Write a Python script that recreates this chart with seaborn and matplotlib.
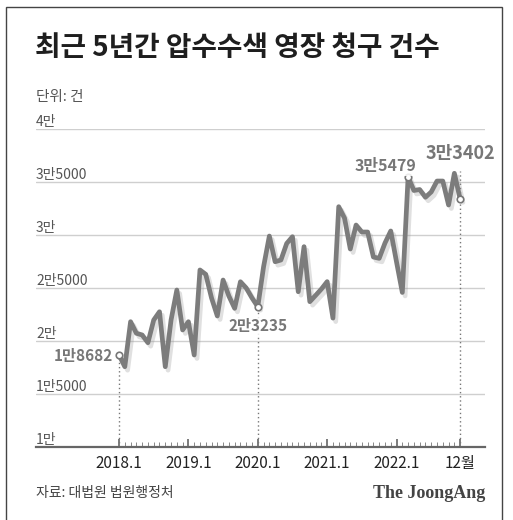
import matplotlib
matplotlib.use("Agg")
import matplotlib.pyplot as plt
import matplotlib.patheffects as pe
from matplotlib.patches import Rectangle
import seaborn as sns
import pandas as pd

sns.set_theme(style="white")
plt.rcParams['font.family'] = ['Noto Sans CJK KR', 'DejaVu Sans']

# ---- data (monthly, 2018.1 - 2022.12) ----
months = [f"{y}.{m}" for y in range(2018, 2023) for m in range(1, 13)]
values = [18682, 17575, 21820, 20730, 20570, 19840, 21980, 22760, 17575, 21980, 24810, 21040,
          21820, 18680, 26700, 26290, 24060, 22360, 25750, 24240, 23080, 25590, 25000, 24060,
          23235, 27000, 29900, 27480, 27640, 29200, 29840, 24650, 28900, 23710, 24300, 24900,
          25600, 22160, 32670, 31600, 28680, 30940, 30280, 30280, 27920, 27800, 29240, 30380,
          27450, 24580, 35479, 34200, 34290, 33560, 34060, 35090, 35090, 32830, 35820, 33402]
ytick_values = [10000, 15000, 20000, 25000, 30000, 35000, 40000]
ytick_labels = ["1만", "1만5000", "2만", "2만5000", "3만", "3만5000", "4만"]
xtick_pos = [0, 12, 24, 36, 48, 59]
xtick_labels = ["2018.1", "2019.1", "2020.1", "2021.1", "2022.1", "12월"]
callout_idx = [0, 24, 50, 59]
callout_text = ["1만8682", "2만3235", "3만5479", "3만3402"]
dotted_idx = [0, 24, 59]

df = pd.DataFrame({"idx": range(len(values)), "month": months, "value": values})

W, H = 513, 520
fig = plt.figure(figsize=(W / 100, H / 100), dpi=100)
fig.patch.set_facecolor("white")

# frame
fig.add_artist(Rectangle((6 / W, -0.01), (502 - 6) / W, 513 / H + 0.01,
                         transform=fig.transFigure, fill=False, edgecolor="#444444", lw=1.0))

ax = fig.add_axes([36 / W, (H - 447) / H, (485 - 36) / W, (447 - 129) / H])
ax.set_facecolor("white")
ax.set_xlim(-14.36, 63.3)
ax.set_ylim(10000, 40000)

# gridlines
for v in ytick_values[1:]:
    ax.axhline(v, color="#cfcfcf", lw=1.0, zorder=0)

# dotted leaders
for i in dotted_idx:
    top = values[i] if i != 59 else 36000
    ax.plot([i, i], [10000, top], ls=(0, (1, 2)), color="#777777", lw=1.0, zorder=1)

sns.lineplot(data=df, x="idx", y="value", ax=ax, color="#7c7c7c", lw=3.4, zorder=3,
             path_effects=[pe.SimpleLineShadow(offset=(2, -2.5), shadow_color="#999999", alpha=0.3),
                           pe.Normal()])
ax.set_xlabel("")
ax.set_ylabel("")

# markers
ax.scatter(callout_idx, [values[i] for i in callout_idx],
           s=22, facecolor="white", edgecolor="#777777", lw=1.2, zorder=5)

# spines & ticks
for s in ["top", "right", "left"]:
    ax.spines[s].set_visible(False)
ax.spines["bottom"].set_color("#666666")
ax.spines["bottom"].set_linewidth(1.6)
ax.set_yticks([])
ax.set_xticks(xtick_pos)
ax.set_xticklabels(xtick_labels, fontsize=11, color="#222222")
ax.set_xticks(range(60), minor=True)
ax.tick_params(axis="x", which="major", direction="in", length=6, width=1.2, color="#666666", pad=6,
               bottom=True)
ax.tick_params(axis="x", which="minor", direction="in", length=3.5, width=0.7, color="#888888",
               bottom=True)

# y labels above gridlines
for v, lab in zip(ytick_values, ytick_labels):
    ax.text(0, v, lab, transform=ax.get_yaxis_transform(), ha="left", va="bottom",
            fontsize=10, color="#555555")

# callouts
bbox = dict(boxstyle="square,pad=0.1", fc="white", ec="none", alpha=0.85)
ax.annotate(callout_text[0], (0, values[0]), xytext=(-4, -1), textcoords="offset points",
            ha="right", va="center", fontsize=11, fontweight="bold", color="#777777", bbox=bbox, zorder=6)
ax.annotate(callout_text[1], (24, values[24]), xytext=(0, -8), textcoords="offset points",
            ha="center", va="top", fontsize=11, fontweight="bold", color="#777777", bbox=bbox, zorder=6)
ax.annotate(callout_text[2], (50, values[50]), xytext=(6, 2), textcoords="offset points",
            ha="right", va="bottom", fontsize=11.5, fontweight="bold", color="#777777", bbox=bbox, zorder=6)
ax.annotate(callout_text[3], (59, values[59]), xytext=(0, 26), textcoords="offset points",
            ha="center", va="bottom", fontsize=13, fontweight="bold", color="#777777", bbox=bbox, zorder=6)

# title, unit, source
fig.text(35 / W, 1 - 48 / H, "최근 5년간 압수수색 영장 청구 건수", ha="left", va="center",
         fontsize=20, fontweight="heavy", color="#1e1e1e")
fig.text(36 / W, 1 - 97 / H, "단위: 건", ha="left", va="center", fontsize=10.5, color="#555555")
fig.text(36 / W, 1 - 493 / H, "자료: 대법원 법원행정처", ha="left", va="center", fontsize=10,
         color="#444444")
fig.text(485 / W, 1 - 493 / H, "The JoongAng", ha="right", va="center", fontsize=13,
         fontweight="bold", color="#444444", family="Liberation Serif")

fig.savefig("out.png", dpi=100, facecolor="white")
